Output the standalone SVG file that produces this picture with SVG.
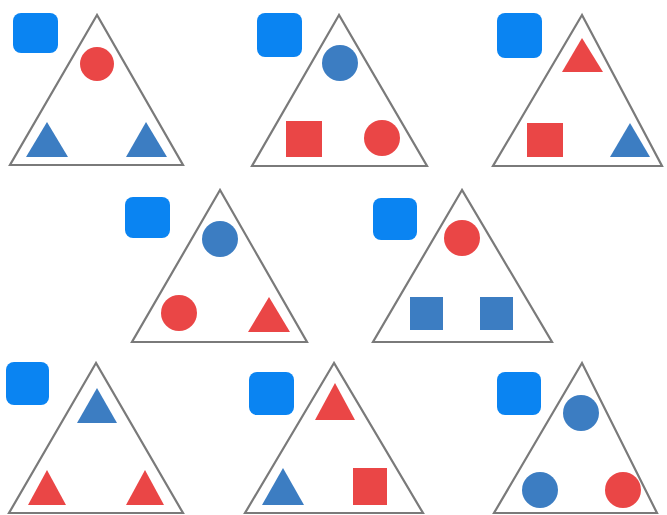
<svg xmlns="http://www.w3.org/2000/svg" width="667" height="515" viewBox="0 0 667 515">
<style>
.key{fill:#0a84f2;}
.frame{fill:#fff;stroke:#7a7a7a;stroke-width:2.2;stroke-linejoin:miter;}
.b{fill:#3c7dc2;}
.r{fill:#ea4646;}
</style>
<rect width="667" height="515" fill="#fff"/>
<g id="panel1">
<rect class="key" x="13" y="13" width="45" height="40" rx="8"/>
<polygon class="frame" points="97,15 10,165 183,165"/>
<circle class="r" cx="97" cy="64" r="17"/>
<polygon class="b" points="47,122 26,157 68,157"/>
<polygon class="b" points="146,122 126,157 167,157"/>
</g>
<g id="panel2">
<rect class="key" x="257" y="13" width="45" height="44" rx="8"/>
<polygon class="frame" points="339,15 252,166 427,166"/>
<circle class="b" cx="340" cy="63" r="18"/>
<rect class="r" x="286" y="121" width="36" height="36"/>
<circle class="r" cx="382" cy="138" r="18"/>
</g>
<g id="panel3">
<rect class="key" x="497" y="13" width="45" height="45" rx="8"/>
<polygon class="frame" points="582,15 493,166 662,166"/>
<polygon class="r" points="582,38 562,72 603,72"/>
<rect class="r" x="527" y="123" width="36" height="34"/>
<polygon class="b" points="630,123 610,157 650,157"/>
</g>
<g id="panel4">
<rect class="key" x="125" y="197" width="45" height="41" rx="8"/>
<polygon class="frame" points="220,190 132,342 307,342"/>
<circle class="b" cx="220" cy="239" r="18"/>
<circle class="r" cx="179" cy="313" r="18"/>
<polygon class="r" points="269,297 248,332 290,332"/>
</g>
<g id="panel5">
<rect class="key" x="373" y="198" width="44" height="42" rx="8"/>
<polygon class="frame" points="462,190 373,342 552,342"/>
<circle class="r" cx="462" cy="238" r="18"/>
<rect class="b" x="410" y="297" width="33" height="33"/>
<rect class="b" x="480" y="297" width="33" height="33"/>
</g>
<g id="panel6">
<rect class="key" x="6" y="362" width="43" height="43" rx="8"/>
<polygon class="frame" points="96,363 9,513 183,513"/>
<polygon class="b" points="97,388 77,423 117,423"/>
<polygon class="r" points="47,470 28,505 66,505"/>
<polygon class="r" points="145,470 126,505 164,505"/>
</g>
<g id="panel7">
<rect class="key" x="249" y="372" width="45" height="43" rx="8"/>
<polygon class="frame" points="334,363 245,513 423,513"/>
<polygon class="r" points="335,383 315,420 355,420"/>
<polygon class="b" points="283,468 262,505 304,505"/>
<rect class="r" x="353" y="468" width="34" height="37"/>
</g>
<g id="panel8">
<rect class="key" x="497" y="372" width="44" height="43" rx="8"/>
<polygon class="frame" points="582,363 494,513 657,513"/>
<circle class="b" cx="581" cy="413" r="18"/>
<circle class="b" cx="540" cy="490" r="18"/>
<circle class="r" cx="623" cy="490" r="18"/>
</g>
<g id="connectors"/>
</svg>
